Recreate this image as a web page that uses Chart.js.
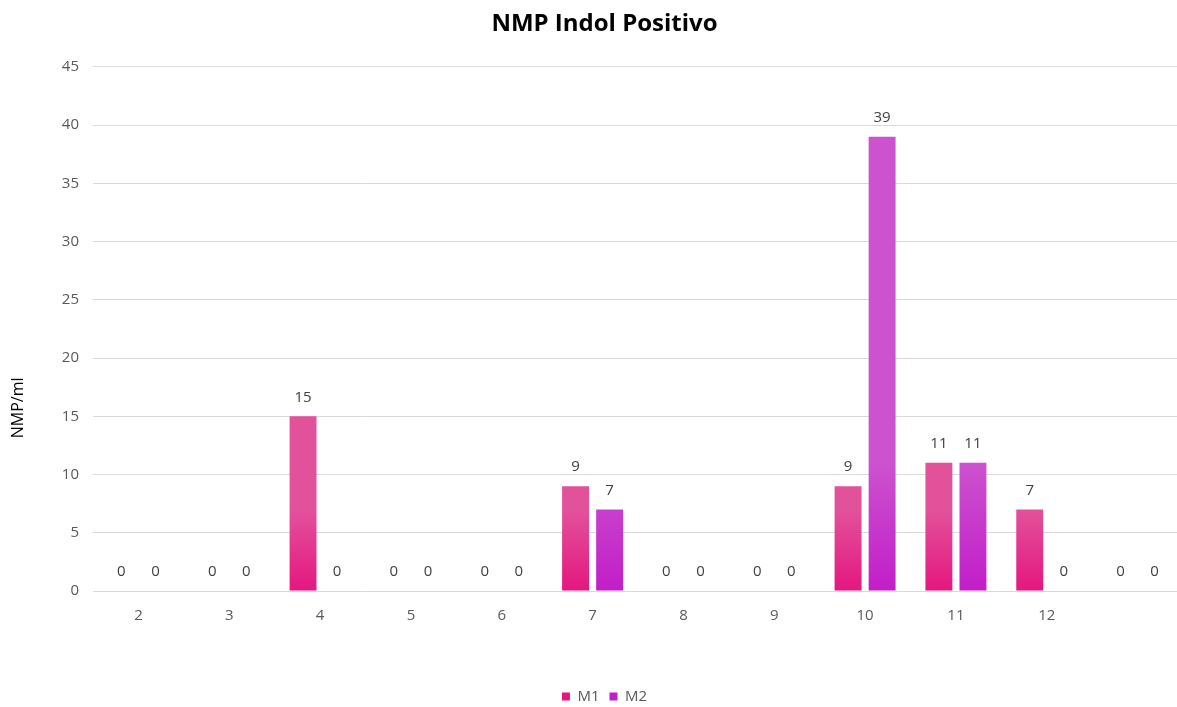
<!DOCTYPE html>
<html>
<head>
<meta charset="utf-8">
<script src="https://cdn.jsdelivr.net/npm/chart.js@4"></script>
<style>
html,body{margin:0;padding:0;background:#fff;overflow:hidden;}
#wrap{width:1183px;height:714px;position:relative;}
</style>
</head>
<body>
<div id="wrap"><canvas id="c"></canvas></div>
<script>
const categories = ['2','3','4','5','6','7','8','9','10','11','12',''];
const m1Values = [0,0,15,0,0,9,0,0,9,11,7,0];
const m2Values = [0,0,0,0,0,7,0,0,39,11,0,0];
const yTicks = [0,5,10,15,20,25,30,35,40,45];

const FONT = '"Open Sans", Lato, sans-serif';

const gradColors = [
  ['#e2529a', '#e5177f'],
  ['#cc52cf', '#c21ec8']
];

const barGradient = {
  id: 'barGradient',
  beforeDatasetsDraw(chart) {
    const ctx = chart.ctx;
    chart.data.datasets.forEach((ds, di) => {
      const meta = chart.getDatasetMeta(di);
      meta.data.forEach(el => {
        const top = Math.min(el.y, el.base), bot = Math.max(el.y, el.base);
        if (bot - top < 1) return;
        const g = ctx.createLinearGradient(0, top, 0, bot);
        g.addColorStop(0, gradColors[di][0]);
        g.addColorStop(1, gradColors[di][1]);
        el.options.backgroundColor = g;
      });
    });
  }
};

const valueLabels = {
  id: 'valueLabels',
  afterDatasetsDraw(chart) {
    const ctx = chart.ctx;
    ctx.save();
    ctx.font = '15px ' + FONT;
    ctx.fillStyle = '#404040';
    ctx.textAlign = 'center';
    ctx.textBaseline = 'middle';
    chart.data.datasets.forEach((ds, di) => {
      const meta = chart.getDatasetMeta(di);
      meta.data.forEach((el, i) => {
        ctx.fillText(String(ds.data[i]), el.x, el.y - 19);
      });
    });
    ctx.restore();
  }
};

const yTitle = {
  id: 'yTitle',
  afterDraw(chart) {
    const ctx = chart.ctx;
    const a = chart.chartArea;
    ctx.save();
    ctx.font = '16px ' + FONT;
    ctx.fillStyle = '#000';
    ctx.textAlign = 'center';
    ctx.textBaseline = 'middle';
    ctx.translate(18, (a.top + a.bottom) / 2 + 79);
    ctx.rotate(-Math.PI / 2);
    ctx.fillText('NMP/ml', 0, 0);
    ctx.restore();
  }
};

new Chart(document.getElementById('c'), {
  type: 'bar',
  data: {
    labels: categories,
    datasets: [
      { label: 'M1', data: m1Values, backgroundColor: gradColors[0][1], barPercentage: 0.79, categoryPercentage: 0.75 },
      { label: 'M2', data: m2Values, backgroundColor: gradColors[1][1], barPercentage: 0.79, categoryPercentage: 0.75 }
    ]
  },
  options: {
    responsive: true,
    maintainAspectRatio: false,
    animation: false,
    layout: { padding: { top: 10, right: 0, left: 26, bottom: 0 } },
    plugins: {
      title: {
        display: true,
        text: 'NMP Indol Positivo',
        color: '#000',
        font: { family: FONT, size: 24, weight: 'bold' },
        padding: { top: 0, bottom: 28 }
      },
      legend: {
        position: 'bottom',
        labels: {
          color: '#595959',
          font: { family: FONT, size: 15 },
          usePointStyle: true,
          pointStyle: 'rect',
          boxWidth: 8,
          boxHeight: 8,
          padding: 10,
          generateLabels(chart) {
            return chart.data.datasets.map((ds, i) => ({
              text: ds.label,
              fillStyle: gradColors[i][1],
              strokeStyle: gradColors[i][1],
              lineWidth: 0,
              pointStyle: 'rect',
              datasetIndex: i,
              fontColor: '#595959'
            }));
          }
        }
      },
      tooltip: { enabled: false }
    },
    scales: {
      x: {
        grid: { display: false, drawTicks: false },
        border: { display: true, color: '#d9d9d9' },
        ticks: { color: '#595959', font: { family: FONT, size: 15 }, padding: 16 },
        afterFit(scale) { scale.height = 88; }
      },
      y: {
        min: 0, max: 45,
        afterBuildTicks(scale) { scale.ticks = yTicks.map(v => ({ value: v })); },
        grid: { color: '#d9d9d9', drawTicks: false },
        border: { display: false },
        ticks: { color: '#595959', font: { family: FONT, size: 15 }, padding: 14 },
        afterFit(scale) { scale.width = 67; }
      }
    }
  },
  plugins: [barGradient, valueLabels, yTitle]
});
</script>
</body>
</html>
